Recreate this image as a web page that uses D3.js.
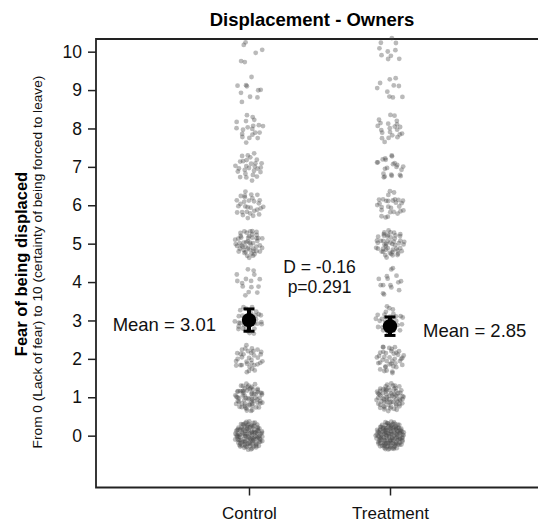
<!DOCTYPE html>
<html>
<head>
<meta charset="utf-8">
<script src="https://cdn.jsdelivr.net/npm/d3@7"></script>
<style>
  html, body { margin: 0; padding: 0; background: #fff; }
  svg { display: block; font-family: "Liberation Sans", Arial, sans-serif; }
</style>
</head>
<body>
<svg id="chart" width="538" height="525"></svg>
<script>
// Response levels on the 0-10 fear scale
const levels = [0, 1, 2, 3, 4, 5, 6, 7, 8, 9, 10];
const groups = ["Control", "Treatment"];

// Number of respondents at each level, per group
const controlCounts   = [115, 68, 35, 35, 15, 50, 30, 28, 20, 10, 6];
const treatmentCounts = [137, 70, 40, 30, 15, 50, 28, 22, 22, 10, 10];

// Group means and confidence bounds
const means  = [3.01, 2.85];
const ciLow  = [2.72, 2.61];
const ciHigh = [3.30, 3.09];

// Test statistics
const diffLabel = "D = -0.16";
const pLabel = "p=0.291";

const yTicks = [0, 1, 2, 3, 4, 5, 6, 7, 8, 9, 10];

const svg = d3.select("#chart");

const plotLeft = 96, plotRight = 560, plotTop = 39, plotBottom = 487.5;

const y = d3.scaleLinear().domain([-1.35, 10.33]).range([plotBottom, plotTop]);
const x = d3.scalePoint().domain(groups).range([249, 390]);

// Frame (open on the right, runs past the page edge)
svg.append("path")
  .attr("d", `M${plotRight},${plotTop}H${plotLeft}V${plotBottom}H${plotRight}`)
  .attr("fill", "none")
  .attr("stroke", "#222")
  .attr("stroke-width", 1.8);

// Y axis
const yAxis = svg.append("g")
  .attr("transform", `translate(${plotLeft},0)`)
  .call(d3.axisLeft(y).tickValues(yTicks).tickFormat(d3.format("d"))
    .tickSize(8).tickSizeOuter(0).tickPadding(6));
yAxis.select(".domain").remove();
yAxis.selectAll(".tick line").attr("stroke", "#222").attr("stroke-width", 1.5);
yAxis.selectAll(".tick text").attr("font-size", 17.5).attr("fill", "#111")
  .attr("font-family", "Liberation Sans, Arial, sans-serif");

// X axis
const xAxis = svg.append("g")
  .attr("transform", `translate(0,${plotBottom})`)
  .call(d3.axisBottom(x).tickSize(8).tickSizeOuter(0).tickPadding(11));
xAxis.select(".domain").remove();
xAxis.selectAll(".tick line").attr("stroke", "#222").attr("stroke-width", 1.5);
xAxis.selectAll(".tick text").attr("font-size", 17).attr("fill", "#111")
  .attr("font-family", "Liberation Sans, Arial, sans-serif");

// Jittered responses: each level's points spread over a small disc
// using a Halton low-discrepancy layout
function halton(i, b) {
  let f = 1, r = 0;
  while (i > 0) { f /= b; r += f * (i % b); i = Math.floor(i / b); }
  return r;
}
const discR = 14.5;
const pts = [];
[controlCounts, treatmentCounts].forEach((counts, g) => {
  counts.forEach((n, li) => {
    const start = (g * 11 + li) * 53 + 7;
    for (let j = 0; j < n; j++) {
      const u = halton(start + j, 2), v = halton(start + j, 3);
      const r = discR * Math.sqrt(u), t = 2 * Math.PI * v;
      pts.push({ group: groups[g], level: levels[li], dx: r * Math.cos(t), dy: r * Math.sin(t) });
    }
  });
});

svg.append("g")
  .selectAll("circle")
  .data(pts)
  .join("circle")
  .attr("cx", d => x(d.group) + d.dx)
  .attr("cy", d => y(d.level) + d.dy)
  .attr("r", 2.4)
  .attr("fill", "#444")
  .attr("fill-opacity", 0.37);

// Means with confidence bars
const meanG = svg.append("g");
groups.forEach((g, i) => {
  const cx = x(g);
  meanG.append("line")
    .attr("x1", cx).attr("x2", cx)
    .attr("y1", y(ciLow[i])).attr("y2", y(ciHigh[i]))
    .attr("stroke", "#000").attr("stroke-width", 4);
  [ciLow[i], ciHigh[i]].forEach(v => {
    meanG.append("line")
      .attr("x1", cx - 5.5).attr("x2", cx + 5.5)
      .attr("y1", y(v)).attr("y2", y(v))
      .attr("stroke", "#000").attr("stroke-width", 3);
  });
  meanG.append("circle")
    .attr("cx", cx).attr("cy", y(means[i]))
    .attr("r", 7.2).attr("fill", "#000");
});

// Mean labels
svg.append("text")
  .attr("x", x("Control") - 33).attr("y", y(means[0]) + 10.5)
  .attr("text-anchor", "end").attr("font-size", 18.5).attr("fill", "#111")
  .text(`Mean = ${means[0].toFixed(2)}`);
svg.append("text")
  .attr("x", x("Treatment") + 33).attr("y", y(means[1]) + 10.5)
  .attr("text-anchor", "start").attr("font-size", 18.5).attr("fill", "#111")
  .text(`Mean = ${means[1].toFixed(2)}`);

// Difference and p-value
const midX = (x("Control") + x("Treatment")) / 2;
svg.append("text")
  .attr("x", midX).attr("y", 273)
  .attr("text-anchor", "middle").attr("font-size", 17.5).attr("fill", "#111")
  .text(diffLabel);
svg.append("text")
  .attr("x", midX).attr("y", 293)
  .attr("text-anchor", "middle").attr("font-size", 17.5).attr("fill", "#111")
  .text(pLabel);

// Title
svg.append("text")
  .attr("x", 312).attr("y", 26)
  .attr("text-anchor", "middle").attr("font-size", 18.5).attr("font-weight", "bold")
  .attr("fill", "#000")
  .text("Displacement - Owners");

// Y axis title (two lines)
svg.append("text")
  .attr("transform", "translate(27,264) rotate(-90)")
  .attr("text-anchor", "middle").attr("font-size", 16.5).attr("font-weight", "bold")
  .attr("fill", "#000")
  .text("Fear of being displaced");
svg.append("text")
  .attr("transform", "translate(42,262) rotate(-90)")
  .attr("text-anchor", "middle").attr("font-size", 13.7)
  .attr("fill", "#111")
  .text("From 0 (Lack of fear) to 10 (certainty of being forced to leave)");
</script>
</body>
</html>
